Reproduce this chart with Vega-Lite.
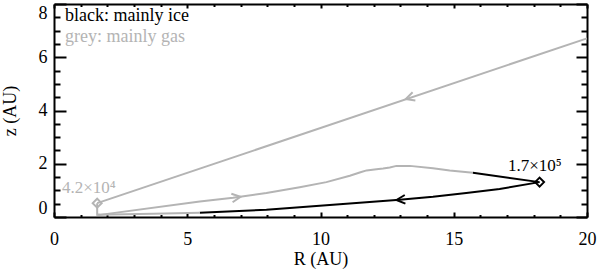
{
  "$schema": "https://vega.github.io/schema/vega-lite/v6.json",
  "width": 533,
  "height": 213,
  "autosize": {"type": "none"},
  "padding": {"left": 54, "top": 4, "right": 13, "bottom": 59},
  "config": {
    "view": {"stroke": null},
    "text": {"font": "Liberation Serif"},
    "axis": {
      "labelFont": "Liberation Serif", "labelFontSize": 18, "labelColor": "black",
      "titleFont": "Liberation Serif", "titleFontSize": 18, "titleFontWeight": "normal", "titleColor": "black",
      "domainColor": "black", "domainWidth": 2, "tickColor": "black", "tickWidth": 2, "grid": false
    }
  },
  "datasets": {
    "paths": [
      {"seg": "g1", "type": "gas", "ord": 0, "x": 20.0, "z": 6.71},
      {"seg": "g1", "type": "gas", "ord": 1, "x": 1.62, "z": 0.52},
      {"seg": "g2", "type": "gas", "ord": 0, "x": 1.62, "z": 0.52},
      {"seg": "g2", "type": "gas", "ord": 1, "x": 1.62, "z": 0.08},
      {"seg": "g2", "type": "gas", "ord": 2, "x": 1.72, "z": 0.08},
      {"seg": "g2", "type": "gas", "ord": 3, "x": 5.47, "z": 0.58},
      {"seg": "g2", "type": "gas", "ord": 4, "x": 6.72, "z": 0.72},
      {"seg": "g2", "type": "gas", "ord": 5, "x": 7.97, "z": 0.9},
      {"seg": "g2", "type": "gas", "ord": 6, "x": 9.22, "z": 1.12},
      {"seg": "g2", "type": "gas", "ord": 7, "x": 10.22, "z": 1.31},
      {"seg": "g2", "type": "gas", "ord": 8, "x": 11.1, "z": 1.55},
      {"seg": "g2", "type": "gas", "ord": 9, "x": 11.5, "z": 1.68},
      {"seg": "g2", "type": "gas", "ord": 10, "x": 11.73, "z": 1.75},
      {"seg": "g2", "type": "gas", "ord": 11, "x": 12.1, "z": 1.79},
      {"seg": "g2", "type": "gas", "ord": 12, "x": 12.35, "z": 1.82},
      {"seg": "g2", "type": "gas", "ord": 13, "x": 12.6, "z": 1.86},
      {"seg": "g2", "type": "gas", "ord": 14, "x": 12.85, "z": 1.92},
      {"seg": "g2", "type": "gas", "ord": 15, "x": 13.35, "z": 1.92},
      {"seg": "g2", "type": "gas", "ord": 16, "x": 14.22, "z": 1.83},
      {"seg": "g2", "type": "gas", "ord": 17, "x": 14.85, "z": 1.75},
      {"seg": "g2", "type": "gas", "ord": 18, "x": 15.72, "z": 1.66},
      {"seg": "i1", "type": "ice", "ord": 0, "x": 15.72, "z": 1.66},
      {"seg": "i1", "type": "ice", "ord": 1, "x": 18.22, "z": 1.31},
      {"seg": "i1", "type": "ice", "ord": 2, "x": 16.72, "z": 1.05},
      {"seg": "i1", "type": "ice", "ord": 3, "x": 15.47, "z": 0.9},
      {"seg": "i1", "type": "ice", "ord": 4, "x": 14.22, "z": 0.76},
      {"seg": "i1", "type": "ice", "ord": 5, "x": 12.97, "z": 0.65},
      {"seg": "i1", "type": "ice", "ord": 6, "x": 10.47, "z": 0.46},
      {"seg": "i1", "type": "ice", "ord": 7, "x": 7.97, "z": 0.27},
      {"seg": "i1", "type": "ice", "ord": 8, "x": 5.47, "z": 0.16},
      {"seg": "g3", "type": "gas", "ord": 0, "x": 5.47, "z": 0.16},
      {"seg": "g3", "type": "gas", "ord": 1, "x": 3.72, "z": 0.12},
      {"seg": "g3", "type": "gas", "ord": 2, "x": 1.62, "z": 0.08}
    ],
    "marks": [
      {"type": "gas", "x": 1.62, "z": 0.52},
      {"type": "ice", "x": 18.22, "z": 1.31}
    ],
    "labels": [
      {"type": "gas", "x": 1.31, "z": 0.9, "text": "4.2×10⁴"},
      {"type": "ice", "x": 18.04, "z": 1.71, "text": "1.7×10⁵"}
    ],
    "notes": [
      {"type": "ice", "x": 0.41, "z": 7.36, "text": "black: mainly ice"},
      {"type": "gas", "x": 0.41, "z": 6.58, "text": "grey: mainly gas"}
    ]
  },
  "resolve": {"axis": {"x": "independent", "y": "independent"}},
  "layer": [
    {
      "data": {"name": "paths"},
      "mark": {"type": "line", "strokeWidth": 2},
      "encoding": {
        "x": {"field": "x", "type": "quantitative", "scale": {"domain": [0, 20], "nice": false, "zero": false},
              "axis": {"orient": "bottom", "values": [0, 5, 10, 15, 20], "tickSize": -5, "labelPadding": 18, "labelFlush": false, "title": "R (AU)", "titlePadding": 2}},
        "y": {"field": "z", "type": "quantitative", "scale": {"domain": [0, 8], "nice": false, "zero": false},
              "axis": {"orient": "left", "values": [0, 2, 4, 6, 8], "tickSize": -12, "labelPadding": 19, "labelFlush": true, "title": "z (AU)", "titlePadding": 19}},
        "detail": {"field": "seg"},
        "order": {"field": "ord", "type": "quantitative"},
        "color": {"field": "type", "type": "nominal", "scale": {"domain": ["ice", "gas"], "range": ["#000000", "#b4b4b4"]}, "legend": null}
      }
    },
    {
      "data": {"name": "marks"},
      "mark": {"type": "point", "shape": "diamond", "filled": false, "strokeWidth": 2, "size": 80, "opacity": 1},
      "encoding": {
        "x": {"field": "x", "type": "quantitative", "scale": {"domain": [0, 20], "nice": false, "zero": false},
              "axis": {"orient": "bottom", "values": [1,2,3,4,6,7,8,9,11,12,13,14,16,17,18,19], "tickSize": -2.5, "labels": false, "domain": false, "title": null}},
        "y": {"field": "z", "type": "quantitative", "scale": {"domain": [0, 8], "nice": false, "zero": false},
              "axis": {"orient": "left", "values": [0.5,1,1.5,2.5,3,3.5,4.5,5,5.5,6.5,7,7.5], "tickSize": -6, "labels": false, "domain": false, "title": null}},
        "color": {"field": "type", "type": "nominal", "scale": {"domain": ["ice", "gas"], "range": ["#000000", "#b4b4b4"]}, "legend": null}
      }
    },
    {
      "data": {"values": [{"type": "gas", "x": 13.2, "z": 4.43}]},
      "mark": {"type": "point", "shape": "M -1 -0.5 L 0 0 L -1 0.5", "filled": false, "strokeWidth": 2, "size": 300, "angle": 161.4, "opacity": 1},
      "encoding": {
        "x": {"field": "x", "type": "quantitative", "scale": {"domain": [0, 20], "nice": false, "zero": false},
              "axis": {"orient": "top", "values": [0, 5, 10, 15, 20], "tickSize": -4, "labels": false, "title": null}},
        "y": {"field": "z", "type": "quantitative", "scale": {"domain": [0, 8], "nice": false, "zero": false},
              "axis": {"orient": "right", "values": [0, 2, 4, 6, 8], "tickSize": -11, "labels": false, "title": null}},
        "color": {"field": "type", "type": "nominal", "scale": {"domain": ["ice", "gas"], "range": ["#000000", "#b4b4b4"]}, "legend": null}
      }
    },
    {
      "data": {"values": [{"type": "gas", "x": 7.0, "z": 0.76}]},
      "mark": {"type": "point", "shape": "M -1 -0.5 L 0 0 L -1 0.5", "filled": false, "strokeWidth": 2, "size": 300, "angle": 351.8, "opacity": 1},
      "encoding": {
        "x": {"field": "x", "type": "quantitative", "scale": {"domain": [0, 20], "nice": false, "zero": false},
              "axis": {"orient": "top", "values": [1,2,3,4,6,7,8,9,11,12,13,14,16,17,18,19], "tickSize": -2.5, "labels": false, "domain": false, "title": null}},
        "y": {"field": "z", "type": "quantitative", "scale": {"domain": [0, 8], "nice": false, "zero": false},
              "axis": {"orient": "right", "values": [0.5,1,1.5,2.5,3,3.5,4.5,5,5.5,6.5,7,7.5], "tickSize": -6, "labels": false, "domain": false, "title": null}},
        "color": {"field": "type", "type": "nominal", "scale": {"domain": ["ice", "gas"], "range": ["#000000", "#b4b4b4"]}, "legend": null}
      }
    },
    {
      "data": {"values": [{"type": "ice", "x": 12.85, "z": 0.64}]},
      "mark": {"type": "point", "shape": "M -1 -0.5 L 0 0 L -1 0.5", "filled": false, "strokeWidth": 2, "size": 300, "angle": 175.7, "opacity": 1},
      "encoding": {
        "x": {"field": "x", "type": "quantitative", "scale": {"domain": [0, 20], "nice": false, "zero": false}, "axis": null},
        "y": {"field": "z", "type": "quantitative", "scale": {"domain": [0, 8], "nice": false, "zero": false}, "axis": null},
        "color": {"field": "type", "type": "nominal", "scale": {"domain": ["ice", "gas"], "range": ["#000000", "#b4b4b4"]}, "legend": null}
      }
    },
    {
      "data": {"name": "notes"},
      "mark": {"type": "text", "font": "Liberation Serif", "fontSize": 18, "align": "left", "baseline": "alphabetic"},
      "encoding": {
        "x": {"field": "x", "type": "quantitative", "scale": {"domain": [0, 20], "nice": false, "zero": false}, "axis": null},
        "y": {"field": "z", "type": "quantitative", "scale": {"domain": [0, 8], "nice": false, "zero": false}, "axis": null},
        "text": {"field": "text"},
        "color": {"field": "type", "type": "nominal", "scale": {"domain": ["ice", "gas"], "range": ["#000000", "#b4b4b4"]}, "legend": null}
      }
    },
    {
      "data": {"name": "labels"},
      "mark": {"type": "text", "font": "Liberation Serif", "fontSize": 17, "align": "center", "baseline": "alphabetic"},
      "encoding": {
        "x": {"field": "x", "type": "quantitative", "scale": {"domain": [0, 20], "nice": false, "zero": false}, "axis": null},
        "y": {"field": "z", "type": "quantitative", "scale": {"domain": [0, 8], "nice": false, "zero": false}, "axis": null},
        "text": {"field": "text"},
        "color": {"field": "type", "type": "nominal", "scale": {"domain": ["ice", "gas"], "range": ["#000000", "#b4b4b4"]}, "legend": null}
      }
    }
  ]
}
